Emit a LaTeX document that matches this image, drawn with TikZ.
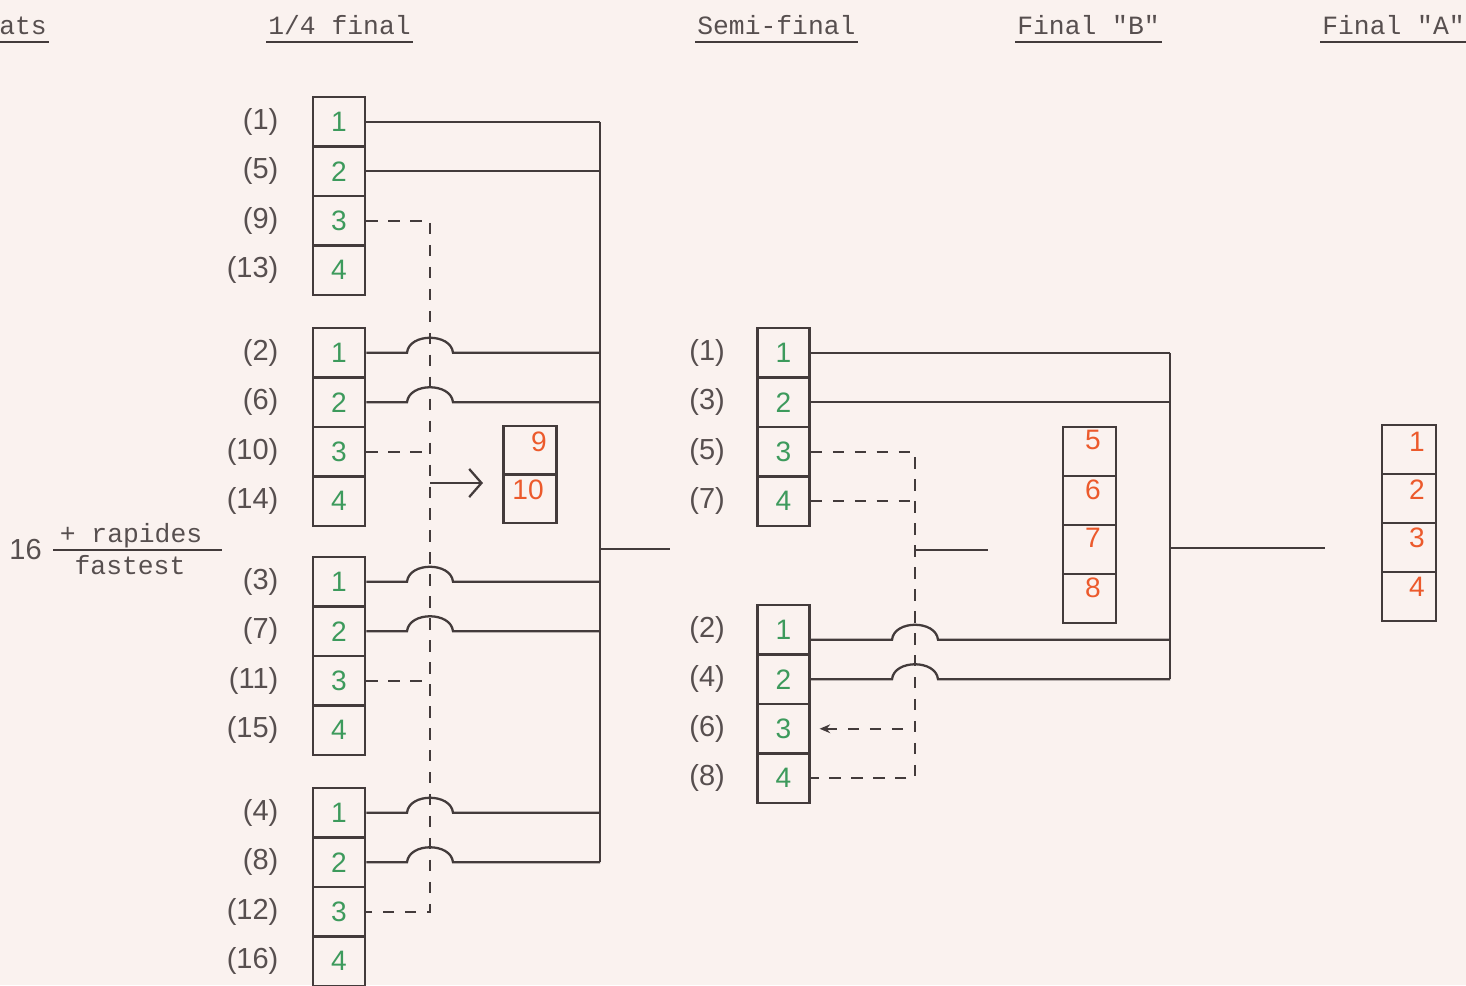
\documentclass[tikz,border=0pt]{standalone}
\usepackage{fontspec}
\setmainfont{Liberation Sans}
\newfontfamily\twfont{Liberation Mono}
\usetikzlibrary{calc,arrows.meta}
\definecolor{bgc}{HTML}{FAF2EF}
\definecolor{ink}{HTML}{433B3B}
\definecolor{labc}{HTML}{574F4F}
\definecolor{grn}{HTML}{3D9A5C}
\definecolor{rd}{HTML}{EC5A2C}
\newcommand\hopline[3]{\draw[wire] (#1) -- ($(#1 -| #2)+(-23,0)$) .. controls ($(#1 -| #2)+(-21,-20)$) and ($(#1 -| #2)+(21,-20)$) .. ($(#1 -| #2)+(23,0)$) -- (#1 -| #3);}
\begin{document}
\begin{tikzpicture}[x=0.02cm,y=-0.02cm,
  wire/.style={draw=ink,line width=1.3pt},
  dline/.style={draw=ink,line width=1.2pt,dash pattern=on 6.5pt off 6pt},
  cellq/.style={draw=ink,line width=1.5pt,minimum width=1.04cm,minimum height=0.99cm,inner sep=0pt,text=grn,font=\fontsize{16}{16}\selectfont},
  cellr/.style={draw=ink,line width=1.5pt,minimum width=1.06cm,minimum height=0.98cm,inner sep=0pt},
  rnum/.style={text=rd,font=\fontsize{16}{16}\selectfont,inner sep=0pt},
  lab/.style={text=labc,font=\fontsize{16.5}{17}\selectfont,inner sep=0pt,anchor=east},
  head/.style={text=labc,font=\twfont\fontsize{15}{15}\selectfont,inner sep=0pt,anchor=base west},
  hline/.style={draw=ink,line width=1.4pt}
]
\useasboundingbox (0,0) rectangle (1466,985);
\fill[bgc] (0,0) rectangle (1466,985);
\clip (0,0) rectangle (1466,985);

% headers
\node[head] (hheat) at (-1,34) {ats};
\node[head] (hq) at (268,34) {1/4 final};
\node[head] (hs) at (697,34) {Semi-final};
\node[head] (hb) at (1017,34) {Final "B"};
\node[head] (ha) at (1322,34) {Final "A"};
\foreach \h in {hheat,hq,hs,hb,ha}
  \draw[hline] ($(\h.base west)+(-2,8)$) -- ($(\h.base east)+(2,8)$);

% fastest
\node[lab] (n16) at (42,550) {16};
\node[head,anchor=base] (rap) at (131,542) {+ rapides};
\node[head,anchor=base] (fast) at (130,574) {fastest};
\draw[hline] (53,550) -- (222,550);

% quarter-final boxes
\foreach \g/\top/\la/\lb/\lc/\ld in {1/97/1/5/9/13, 2/328/2/6/10/14, 3/557/3/7/11/15, 4/788/4/8/12/16} {
  \foreach \r/\l in {1/\la,2/\lb,3/\lc,4/\ld} {
    \node[cellq] (q\g\r) at (339,{\top+24.75+(\r-1)*49.5}) {\r};
    \node[lab] (lq\g\r) at ($(q\g\r.west)+(-33,0)$) {(\l)};
  }
}

% semi-final boxes
\foreach \g/\top/\la/\lb/\lc/\ld in {A/328/1/3/5/7, B/605/2/4/6/8} {
  \foreach \r/\l in {1/\la,2/\lb,3/\lc,4/\ld} {
    \node[cellq] (s\g\r) at (783.5,{\top+24.75+(\r-1)*49.5}) {\r};
    \node[lab] (ls\g\r) at ($(s\g\r.west)+(-31,0)$) {(\l)};
  }
}

% 9/10 box
\node[cellr,minimum height=0.97cm] (r9) at (530,450.25) {};
\node[cellr,minimum height=0.97cm] (r10) at (530,498.75) {};
\node[rnum] (n9) at (539,442) {9};
\node[rnum] (n10) at (528,490) {10};

% Final B box
\node[cellr] (fb5) at (1089.5,451.5) {};
\node[cellr] (fb6) at (1089.5,500.5) {};
\node[cellr] (fb7) at (1089.5,549.5) {};
\node[cellr] (fb8) at (1089.5,598.5) {};
\node[rnum] (nb5) at (1093,440) {5};
\node[rnum] (nb6) at (1093,490) {6};
\node[rnum] (nb7) at (1093,538) {7};
\node[rnum] (nb8) at (1093,588) {8};

% Final A box
\node[cellr,minimum width=1.08cm] (fa1) at (1409,449.5) {};
\node[cellr,minimum width=1.08cm] (fa2) at (1409,498.5) {};
\node[cellr,minimum width=1.08cm] (fa3) at (1409,547.5) {};
\node[cellr,minimum width=1.08cm] (fa4) at (1409,596.5) {};
\node[rnum] (na1) at (1417,442) {1};
\node[rnum] (na2) at (1417,490) {2};
\node[rnum] (na3) at (1417,538) {3};
\node[rnum] (na4) at (1417,587) {4};

% quarter-final connectors
\coordinate (qbus) at (600,0);
\coordinate (qdash) at (430,0);
\coordinate (qout) at (670,549);
\coordinate (qarr) at (483,483);
\draw[dline] (q13.east) -- (q13.east -| qdash) -- (q43.east -| qdash) -- (q43.east);
\draw[dline] (q23.east) -- (q23.east -| qdash);
\draw[dline] (q33.east) -- (q33.east -| qdash);
\draw[wire,-{Straight Barb[length=7pt,width=16pt]}] (qarr -| qdash) -- (qarr);
\draw[wire] (q11.east -| qbus) -- (q42.east -| qbus);
\draw[wire] (q11.east) -- (q11.east -| qbus);
\draw[wire] (q12.east) -- (q12.east -| qbus);
\hopline{q21.east}{qdash}{qbus}
\hopline{q22.east}{qdash}{qbus}
\hopline{q31.east}{qdash}{qbus}
\hopline{q32.east}{qdash}{qbus}
\hopline{q41.east}{qdash}{qbus}
\hopline{q42.east}{qdash}{qbus}
\draw[wire] (qout -| qbus) -- (qout);

% semi-final connectors
\coordinate (sbus) at (1170,0);
\coordinate (sdash) at (915,0);
\coordinate (sout) at (1325,548);
\coordinate (fbin) at (988,550);
\coordinate (sB1o) at ($(sB1.east)+(0,10)$);
\draw[dline] (sA3.east) -- (sA3.east -| sdash) -- (sB4.east -| sdash) -- (sB4.east);
\draw[dline] (sA4.east) -- (sA4.east -| sdash);
\draw[dline,{Stealth[length=6pt,width=5pt]}-,shorten <=5pt] (sB3.east) -- (sB3.east -| sdash);
\draw[wire] (fbin -| sdash) -- (fbin);
\draw[wire] (sA1.east -| sbus) -- (sB2.east -| sbus);
\draw[wire] (sA1.east) -- (sA1.east -| sbus);
\draw[wire] (sA2.east) -- (sA2.east -| sbus);
\hopline{sB1o}{sdash}{sbus}
\hopline{sB2.east}{sdash}{sbus}
\draw[wire] (sout -| sbus) -- (sout);
\end{tikzpicture}
\end{document}
